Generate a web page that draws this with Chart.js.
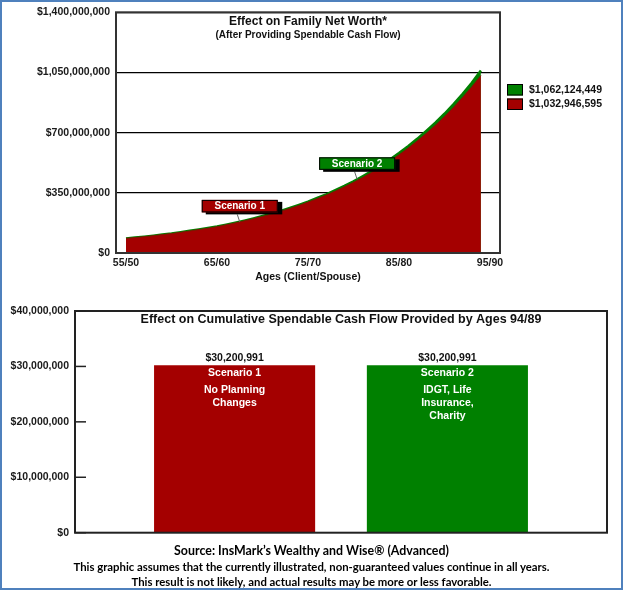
<!DOCTYPE html>
<html>
<head>
<meta charset="utf-8">
<script src="https://cdn.jsdelivr.net/npm/chart.js@4.4.1/dist/chart.umd.min.js"></script>
<style>
  html, body { margin: 0; padding: 0; background: #fff; overflow: hidden; }
  #page { position: relative; width: 623px; height: 590px; background: #fff; }
  #frame { position: absolute; left: 0; top: 0; width: 623px; height: 590px; box-sizing: border-box;
           border: 2px solid #4f81bd; pointer-events: none; z-index: 5; }
  #topChart { position: absolute; left: 0; top: 0; }
  #bottomChart { position: absolute; left: 0; top: 290px; }
  #footer { position: absolute; left: 0; top: 543px; width: 623px; text-align: center;
            font-family: Lato, "Open Sans", sans-serif; font-weight: bold; color: #000; }
  #footer .l1 { font-size: 12.4px; height: 16px; line-height: 16px; }
  #footer .l2 { font-size: 11.35px; height: 15px; line-height: 15px; }
</style>
</head>
<body>
<div id="page">
  <canvas id="topChart" width="623" height="290"></canvas>
  <canvas id="bottomChart" width="623" height="255"></canvas>
  <div id="footer">
    <div class="l1">Source: InsMark’s Wealthy and Wise® (Advanced)</div>
    <div class="l2">This graphic assumes that the currently illustrated, non-guaranteed values continue in all years.</div>
    <div class="l2">This result is not likely, and actual results may be more or less favorable.</div>
  </div>
  <div id="frame"></div>
</div>
<script>
// ---- top chart data ($ millions, client age) ----
const ages = [55,56,57,58,59,60,61,62,63,64,65,66,67,68,69,70,71,72,73,74,
              75,76,77,78,79,80,81,82,83,84,85,86,87,88,89,90,91,92,93,94];
const scenario1 = [85,90,95,101,107,113,120,128,136,144,153,164,175,187,199,213,227,243,259,277,
                   296,316,337,360,385,411,439,469,501,535,571,610,652,696,743,794,848,906,967,1032.9];
const scenario2 = [85,90,95,101,107,113,121,129,137,145,154,165,176,188,201,215,229,245,262,280,
                   299,320,341,365,390,417,446,476,509,544,581,621,664,710,758,810,866,926,990,1062.1];
const ageTicks = [55,65,75,85,95];
const ageTickLabels = ['55/50','65/60','75/70','85/80','95/90'];
const legendLabels = ['$1,062,124,449','$1,032,946,595'];
const callouts = [
  { text: 'Scenario 1', age: 67.5, series: 0 },
  { text: 'Scenario 2', age: 80.4, series: 1 }
];

// ---- bottom chart data ----
const scenarioNames = ['Scenario 1','Scenario 2'];
const cashFlow = [30200991, 30200991];
const cashFlowLabels = ['$30,200,991','$30,200,991'];
const barText = [
  ['Scenario 1','No Planning','Changes'],
  ['Scenario 2','IDGT, Life','Insurance,','Charity']
];

const RED = '#a40000';
const GREEN = '#008000';
const FONT = "'Liberation Sans', Arial, sans-serif";

Chart.defaults.font.family = FONT;
Chart.defaults.font.weight = 'bold';
Chart.defaults.color = '#1a1a1a';

const money = v => '$' + Math.round(v).toLocaleString('en-US');

const topDecor = {
  id: 'topDecor',
  afterDraw(chart) {
    const { ctx, chartArea: a, scales: { x, y } } = chart;
    ctx.save();
    ctx.strokeStyle = '#333';
    ctx.lineWidth = 2;
    ctx.strokeRect(a.left, a.top, a.right - a.left, a.bottom - a.top);

    const cx = (a.left + a.right) / 2;
    ctx.fillStyle = '#111';
    ctx.textAlign = 'center';
    ctx.textBaseline = 'middle';
    ctx.font = 'bold 12px ' + FONT;
    ctx.fillText('Effect on Family Net Worth*', cx, a.top + 9);
    ctx.font = 'bold 10px ' + FONT;
    ctx.fillText('(After Providing Spendable Cash Flow)', cx, a.top + 23);
    ctx.font = 'bold 10.5px ' + FONT;
    ctx.fillText('Ages (Client/Spouse)', cx, a.bottom + 24);

    // legend
    const colors = [GREEN, RED];
    ctx.textAlign = 'left';
    legendLabels.forEach((lab, i) => {
      const by = 84 + i * 14.5;
      ctx.fillStyle = colors[i];
      ctx.fillRect(a.right + 7, by, 16, 11.5);
      ctx.strokeStyle = '#000';
      ctx.lineWidth = 1;
      ctx.strokeRect(a.right + 7.5, by + 0.5, 15, 10.5);
      ctx.fillStyle = '#111';
      ctx.font = 'bold 10.5px ' + FONT;
      ctx.fillText(lab, a.right + 29, by + 6);
    });

    // callouts
    const series = [scenario1, scenario2];
    const fills = [RED, GREEN];
    callouts.forEach(c => {
      const s = series[c.series];
      const i0 = Math.floor(c.age) - ages[0];
      const f = c.age - Math.floor(c.age);
      const v = s[i0] + (s[i0 + 1] - s[i0]) * f;
      const px = x.getPixelForValue(c.age);
      const py = y.getPixelForValue(v);
      const w = 76, h = 12.5;
      const bx = px - w / 2, by = py - 9.5 - h;
      ctx.strokeStyle = '#666';
      ctx.lineWidth = 1;
      ctx.beginPath();
      ctx.moveTo(px - 2.5, by + h + 2);
      ctx.lineTo(px, py);
      ctx.stroke();
      ctx.fillStyle = '#000';
      ctx.fillRect(bx + 4, by + 2, w + 0.5, h);
      ctx.fillStyle = fills[c.series];
      ctx.fillRect(bx, by, w, h);
      ctx.strokeStyle = '#000';
      ctx.strokeRect(bx + 0.5, by + 0.5, w - 1, h - 1);
      ctx.fillStyle = '#fff';
      ctx.textAlign = 'center';
      ctx.font = 'bold 10px ' + FONT;
      ctx.fillText(c.text, px, by + h / 2 + 0.5);
    });
    ctx.restore();
  }
};

new Chart(document.getElementById('topChart'), {
  type: 'line',
  data: {
    datasets: [
      {
        label: 'Scenario 1',
        data: ages.map((a, i) => ({ x: a, y: scenario1[i] })),
        borderColor: '#7a1a00',
        borderWidth: 1,
        backgroundColor: RED,
        fill: 'origin',
        pointRadius: 0,
        tension: 0
      },
      {
        label: 'Scenario 2',
        data: ages.map((a, i) => ({ x: a, y: scenario2[i] })),
        borderColor: GREEN,
        borderWidth: 2.5,
        backgroundColor: GREEN,
        fill: 'origin',
        pointRadius: 0,
        tension: 0
      }
    ]
  },
  options: {
    responsive: false,
    animation: false,
    layout: { padding: { left: 0, top: 10, right: 123, bottom: 0 } },
    plugins: { legend: { display: false }, tooltip: { enabled: false } },
    scales: {
      x: {
        type: 'linear',
        min: 53.9,
        max: 96.1,
        afterBuildTicks: s => { s.ticks = ageTicks.map(v => ({ value: v })); },
        afterFit: s => { s.height = 37; },
        grid: { display: false, drawTicks: false },
        border: { display: false },
        ticks: {
          autoSkip: false,
          maxRotation: 0,
          padding: 4,
          font: { size: 10.5, weight: 'bold' },
          callback: v => ageTickLabels[ageTicks.indexOf(v)]
        }
      },
      y: {
        min: 0,
        max: 1400,
        afterFit: s => { s.width = 116; },
        grid: {
          drawTicks: false,
          color: '#000',
          lineWidth: 1.3
        },
        border: { display: false },
        ticks: {
          stepSize: 350,
          padding: 6,
          font: { size: 10.5, weight: 'bold' },
          callback: v => money(v * 1e6)
        }
      }
    }
  },
  plugins: [topDecor]
});

const bottomDecor = {
  id: 'bottomDecor',
  afterDraw(chart) {
    const { ctx, chartArea: a, scales: { y } } = chart;
    ctx.save();
    ctx.strokeStyle = '#222';
    ctx.lineWidth = 2;
    ctx.strokeRect(a.left, a.top, a.right - a.left, a.bottom - a.top);
    ctx.lineWidth = 1.5;
    y.ticks.forEach(t => {
      const py = y.getPixelForValue(t.value);
      ctx.beginPath();
      ctx.moveTo(a.left, py);
      ctx.lineTo(a.left + 11, py);
      ctx.stroke();
    });
    const cx = (a.left + a.right) / 2;
    ctx.fillStyle = '#111';
    ctx.textAlign = 'center';
    ctx.textBaseline = 'middle';
    ctx.font = 'bold 12.5px ' + FONT;
    ctx.fillText('Effect on Cumulative Spendable Cash Flow Provided by Ages 94/89', cx, a.top + 8.5);

    scenarioNames.forEach((n, i) => {
      const bar = chart.getDatasetMeta(i).data[0];
      ctx.fillStyle = '#111';
      ctx.font = 'bold 10.5px ' + FONT;
      ctx.fillText(cashFlowLabels[i], bar.x, bar.y - 7);
      ctx.fillStyle = '#fff';
      barText[i].forEach((line, j) => {
        const ly = j === 0 ? bar.y + 7.5 : bar.y + 24.3 + (j - 1) * 13;
        ctx.fillText(line, bar.x, ly);
      });
    });
    ctx.restore();
  }
};

new Chart(document.getElementById('bottomChart'), {
  type: 'bar',
  data: {
    labels: ['Cumulative Spendable Cash Flow'],
    datasets: scenarioNames.map((n, i) => ({
      label: n,
      data: [cashFlow[i]],
      backgroundColor: [RED, GREEN][i],
      categoryPercentage: 0.8,
      barPercentage: 0.757
    }))
  },
  options: {
    responsive: false,
    animation: false,
    layout: { padding: { left: 0, top: 21, right: 16, bottom: 9 } },
    plugins: { legend: { display: false }, tooltip: { enabled: false } },
    scales: {
      x: { display: false },
      y: {
        min: 0,
        max: 40000000,
        afterFit: s => { s.width = 75; },
        grid: { display: false, drawTicks: false },
        border: { display: false },
        ticks: {
          stepSize: 10000000,
          padding: 6,
          font: { size: 10.5, weight: 'bold' },
          callback: v => money(v)
        }
      }
    }
  },
  plugins: [bottomDecor]
});
</script>
</body>
</html>
